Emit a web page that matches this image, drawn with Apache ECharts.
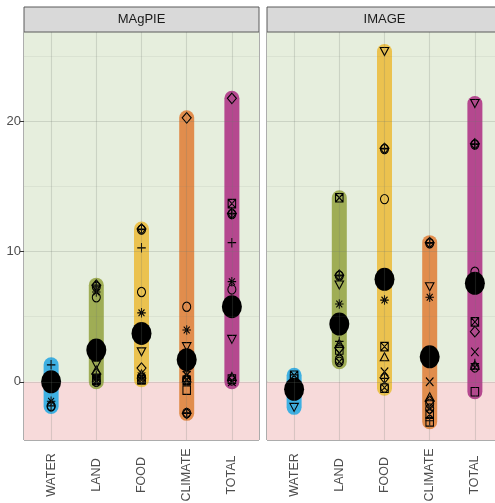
<!DOCTYPE html>
<html>
<head>
<meta charset="utf-8">
<script src="https://cdn.jsdelivr.net/npm/echarts@6/dist/echarts.min.js"></script>
<style>
html, body { margin: 0; padding: 0; background: #ffffff; }
#chart { width: 495px; height: 503px; }
</style>
</head>
<body>
<div id="chart"></div>
<script>
// Facets and categories
const models = ['MAgPIE', 'IMAGE'];
const categories = ['WATER', 'LAND', 'FOOD', 'CLIMATE', 'TOTAL'];
const yTickValues = [0, 10, 20];

// Scenario values per category, in scenario order:
// square, circle, triangle, plus, cross, diamond, triangle down,
// boxed cross, asterisk, diamond plus, circle plus, circle cross
const magpieWater   = [0.1, -1.9, 0.3, 1.3, -0.1, 0.2, -0.2, 0.4, -1.5, -0.3, -1.85, 0.0];
const magpieLand    = [0.2, 6.5, 0.9, 0.5, 0.3, 0.6, 1.3, 0.1, 6.9, 7.43, 7.3, 0.0];
const magpieFood    = [0.2, 6.9, 0.6, 10.3, 0.4, 1.05, 2.3, 0.15, 5.3, 11.75, 11.7, 0.3];
const magpieClimate = [-0.64, 5.77, 0.3, 0.77, 0.5, 20.3, 2.7, 0.1, 3.98, -2.43, -2.4, 0.2];
const magpieTotal   = [0.2, 7.1, 0.4, 10.7, 0.0, 21.8, 3.26, 13.7, 7.7, 12.95, 12.9, 0.1];

const imageWater    = [0.2, -0.6, -0.4, -0.7, -0.5, -0.8, -1.97, 0.5, -0.6, -0.3, -0.9, -1.0];
const imageLand     = [2.44, 1.7, 2.95, 3.1, 2.2, 2.6, 7.44, 14.15, 5.98, 8.2, 8.15, 1.54];
const imageFood     = [-0.5, 14.05, 1.92, 0.26, 0.77, 0.3, 25.4, 2.7, 6.28, 17.95, 17.9, -0.45];
const imageClimate  = [-3.08, -1.7, -1.15, -3.0, 0.0, -1.5, 7.3, -2.5, 6.5, 10.7, 10.65, -2.05];
const imageTotal    = [-0.77, 8.46, 1.28, 1.4, 2.3, 3.85, 21.4, 4.6, 7.4, 18.3, 18.25, 1.1];

// Central estimate per category (large dots)
const magpieMean = [0.0, 2.44, 3.72, 1.7, 5.77];
const imageMean  = [-0.58, 4.44, 7.88, 1.92, 7.57];

// ---- styling ----
const categoryColors = ['#3EB0E2', '#9FAD55', '#EBC24F', '#E18D4D', '#B5488F'];
const scenarioSymbols = [
  'path://M0,0H10V10H0Z',
  'circle',
  'path://M5,0L10,9H0Z',
  'path://M5,0V10M0,5H10',
  'path://M0,0L10,10M10,0L0,10',
  'path://M5,0L10,5L5,10L0,5Z',
  'path://M0,0H10L5,9Z',
  'path://M0,0H10V10H0ZM0,0L10,10M10,0L0,10',
  'path://M5,0V10M0,5H10M1.5,1.5L8.5,8.5M8.5,1.5L1.5,8.5',
  'path://M5,0L10,5L5,10L0,5ZM5,0V10M0,5H10',
  'path://M0,5A5,5 0 1 1 10,5A5,5 0 1 1 0,5ZM5,0V10M0,5H10',
  'path://M0,5A5,5 0 1 1 10,5A5,5 0 1 1 0,5ZM1.46,1.46L8.54,8.54M8.54,1.46L1.46,8.54'
];
const scenarioSizes = [
  [7.5, 8.5], [8, 9.2], [8.5, 8], [8.5, 9.5], [7.5, 8.5], [9, 10.5],
  [8.5, 8], [7.5, 8.5], [8.5, 9.5], [9, 10.5], [8, 9.2], [8, 9.2]
];

const panelValues = [
  [magpieWater, magpieLand, magpieFood, magpieClimate, magpieTotal],
  [imageWater, imageLand, imageFood, imageClimate, imageTotal]
];
const panelMeans = [magpieMean, imageMean];

const Y_MIN = -4.48, Y_MAX = 26.9;
const X_MIN = 0.4, X_MAX = 5.6;
const gridLeft = [24, 267];
const GRID_TOP = 32, GRID_W = 235, GRID_H = 408;
const narrowFont = '"Liberation Sans Narrow", "Liberation Sans", Arial, sans-serif';
const textFont = '"Liberation Sans", Arial, sans-serif';

const gridLine = { color: 'rgba(110,120,110,0.22)', width: 1.1, type: 'solid' };
const minorLine = { color: 'rgba(110,120,110,0.14)', width: 0.7, type: 'solid' };

const grids = [], xAxes = [], yAxes = [], series = [], graphics = [];

models.forEach((model, gi) => {
  grids.push({
    left: gridLeft[gi], top: GRID_TOP, width: GRID_W, height: GRID_H,
    show: true, borderColor: '#5a5a5a', borderWidth: 1, backgroundColor: 'transparent',
    containLabel: false, outerBoundsMode: 'none'
  });
  xAxes.push({
    type: 'value', gridIndex: gi, min: X_MIN, max: X_MAX,
    axisLine: { show: false }, splitLine: { show: false },
    axisTick: { show: false },
    axisLabel: {
      customValues: [1, 2, 3, 4, 5],
      formatter: v => categories[Math.round(v) - 1] || '',
      rotate: 90, align: 'center', margin: 35,
      fontFamily: textFont, fontSize: 12.5, color: '#4d4d4d'
    }
  });
  yAxes.push({
    type: 'value', gridIndex: gi, min: Y_MIN, max: Y_MAX,
    axisLine: { show: false }, splitLine: { show: false },
    axisTick: { show: gi === 0, customValues: yTickValues, length: 4, lineStyle: { color: '#333333', width: 1 } },
    axisLabel: {
      show: gi === 0, customValues: yTickValues, margin: 3,
      fontFamily: narrowFont, fontSize: 13, color: '#4d4d4d'
    }
  });

  // Panel background bands and grid lines
  const lines = [];
  yTickValues.forEach(v => lines.push({ yAxis: v, lineStyle: gridLine }));
  [5, 15, 25].forEach(v => lines.push({ yAxis: v, lineStyle: minorLine }));
  [1, 2, 3, 4, 5].forEach(v => lines.push({ xAxis: v, lineStyle: gridLine }));
  series.push({
    type: 'custom', xAxisIndex: gi, yAxisIndex: gi, z: 0, silent: true,
    data: [], renderItem: () => null,
    markArea: {
      silent: true,
      data: [
        [{ yAxis: 0, itemStyle: { color: '#E6EEDD', opacity: 1 } }, { yAxis: Y_MAX }],
        [{ yAxis: Y_MIN, itemStyle: { color: '#F7DADA', opacity: 1 } }, { yAxis: 0 }]
      ]
    },
    markLine: { silent: true, symbol: 'none', label: { show: false }, data: lines, animation: false }
  });

  const vals = panelValues[gi];

  // Range bars from lowest to highest scenario value
  series.push({
    type: 'custom', xAxisIndex: gi, yAxisIndex: gi, z: 2, silent: true,
    data: categories.map((c, i) => [i + 1, Math.min(...vals[i]), Math.max(...vals[i]), i]),
    renderItem: (params, api) => {
      const p1 = api.coord([api.value(0), api.value(1)]);
      const p2 = api.coord([api.value(0), api.value(2)]);
      return {
        type: 'line',
        shape: { x1: p1[0], y1: p1[1], x2: p2[0], y2: p2[1] },
        style: { stroke: categoryColors[api.value(3)], lineWidth: 15, lineCap: 'round' }
      };
    }
  });

  // Scenario markers
  scenarioSymbols.forEach((sym, s) => {
    series.push({
      type: 'scatter', xAxisIndex: gi, yAxisIndex: gi, z: 3, silent: true,
      symbol: sym, symbolSize: scenarioSizes[s],
      itemStyle: { color: 'rgba(0,0,0,0)', borderColor: '#000000', borderWidth: 1.1, opacity: 1 },
      data: categories.map((c, i) => [i + 1, vals[i][s]])
    });
  });

  // Central estimates
  series.push({
    type: 'scatter', xAxisIndex: gi, yAxisIndex: gi, z: 4, silent: true,
    symbol: 'circle', symbolSize: [20, 23],
    itemStyle: { color: '#000000', opacity: 1 },
    data: categories.map((c, i) => [i + 1, panelMeans[gi][i]])
  });

  // Facet strip
  graphics.push({
    type: 'rect', z: 10,
    shape: { x: gridLeft[gi], y: 7, width: GRID_W, height: 25, r: 0 },
    style: { fill: '#D9D9D9', stroke: '#5a5a5a', lineWidth: 1 }
  });
  graphics.push({
    type: 'text', z: 11,
    x: gridLeft[gi] + GRID_W / 2, y: 19.5,
    style: {
      text: model, fill: '#1a1a1a', font: '13px ' + narrowFont,
      align: 'center', verticalAlign: 'middle'
    }
  });
});

const chart = echarts.init(document.getElementById('chart'), null, { renderer: 'canvas' });
chart.setOption({
  animation: false,
  grid: grids,
  xAxis: xAxes,
  yAxis: yAxes,
  series: series,
  graphic: graphics
});
</script>
</body>
</html>
